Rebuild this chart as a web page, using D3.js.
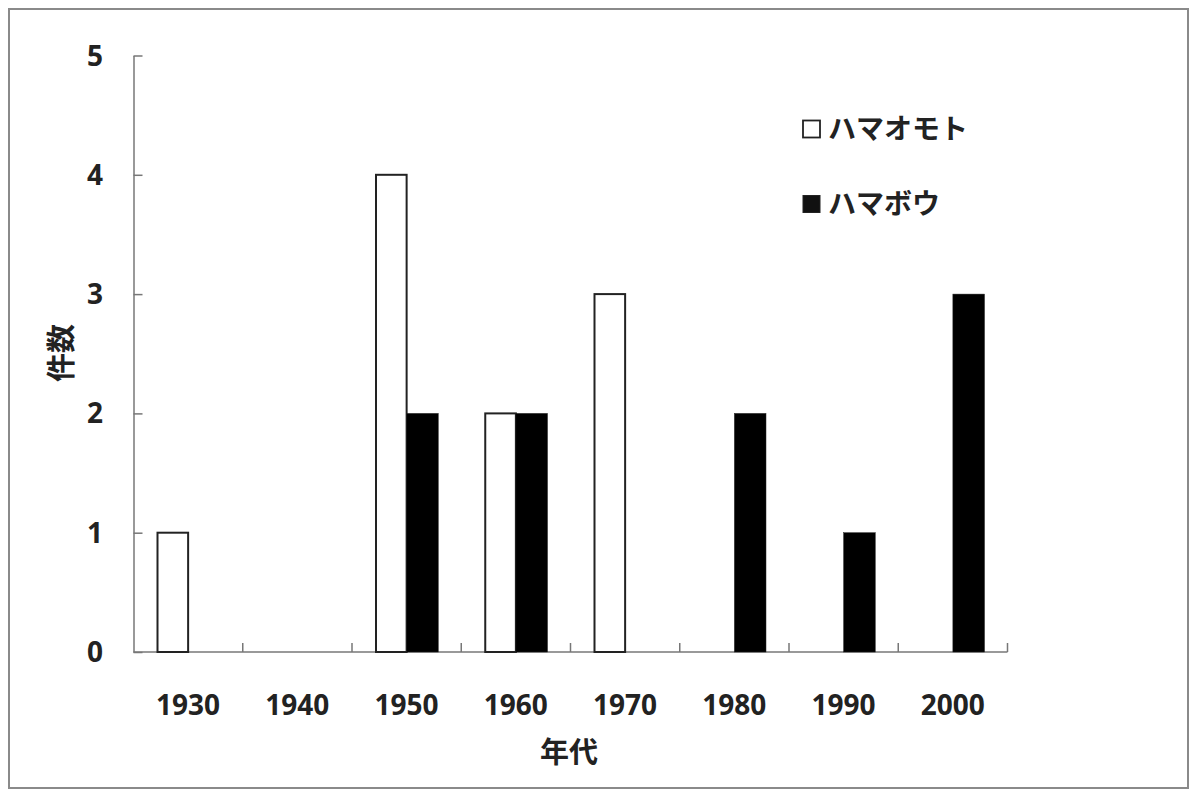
<!DOCTYPE html>
<html><head><meta charset="utf-8">
<script src="https://cdn.jsdelivr.net/npm/d3@7"></script>
<style>
html,body{margin:0;padding:0;background:#fff;}
svg{display:block;}
</style></head>
<body>
<svg id="chart" width="1192" height="791"></svg>
<script>
const categories = ["1930","1940","1950","1960","1970","1980","1990","2000"];
const seriesNames = ["ハマオモト","ハマボウ"];
const hamaomoto = [1,0,4,2,3,0,0,0];
const hamabou = [0,0,2,2,0,2,1,3];
const yTicks = [0,1,2,3,4,5];

(function(){
const svg = d3.select("#chart");
const pL = 133.5, pR = 1007.5, pT = 55.5, pB = 652;
const latin = "'Open Sans', 'Noto Sans', sans-serif";
const cjk = "'Noto Sans CJK JP', sans-serif";

// outer border
svg.append("rect").attr("x",9).attr("y",9).attr("width",1179).attr("height",779)
  .attr("fill","#fff").attr("stroke","#8a8a8a").attr("stroke-width",2);

const x = d3.scaleBand().domain(categories).range([pL,pR]).paddingInner(0).paddingOuter(0);
const x1 = d3.scaleBand().domain(seriesNames).range([23, x.bandwidth()-23]).padding(0);
const y = d3.scaleLinear().domain([0,5]).range([pB, pT]);

// y axis
const yAxis = d3.axisRight(y).tickValues(yTicks).tickSize(9).tickFormat("").tickSizeOuter(0);
const gy = svg.append("g").attr("transform",`translate(${pL},0)`).call(yAxis);
gy.select(".domain").attr("stroke","#777").attr("stroke-width",1.5);
gy.selectAll(".tick line").attr("stroke","#777").attr("stroke-width",1.5);

svg.append("g").selectAll("text").data(yTicks).join("text")
  .attr("x",103).attr("y",d=>y(d)).attr("dy","0.36em").attr("text-anchor","end")
  .attr("font-family",latin).attr("font-weight",700).attr("font-size",28).attr("fill","#222")
  .text(d=>d);

// x axis: ticks at category boundaries
const boundaries = categories.map(c=>x(c)).concat([pR]);
const gx = svg.append("g");
gx.append("line").attr("x1",pL).attr("x2",pR).attr("y1",pB).attr("y2",pB)
  .attr("stroke","#777").attr("stroke-width",1.5);
gx.selectAll("line.t").data(boundaries.slice(1)).join("line").attr("class","t")
  .attr("x1",d=>d).attr("x2",d=>d).attr("y1",pB).attr("y2",pB-9)
  .attr("stroke","#777").attr("stroke-width",1.5);

svg.append("g").selectAll("text").data(categories).join("text")
  .attr("x",d=>x(d)+x.bandwidth()/2).attr("y",715).attr("text-anchor","middle")
  .attr("font-family",latin).attr("font-weight",700).attr("font-size",28).attr("fill","#222")
  .text(d=>d);

// bars
const data = categories.map((c,i)=>({c, vals:[{s:seriesNames[0],v:hamaomoto[i]},{s:seriesNames[1],v:hamabou[i]}]}));
const g = svg.append("g");
data.forEach(d=>{
  d.vals.forEach(b=>{
    if(b.v<=0) return;
    const isW = b.s===seriesNames[0];
    g.append("rect")
      .attr("x",x(d.c)+x1(b.s)+(isW?1:0))
      .attr("y",y(b.v))
      .attr("width",x1.bandwidth()-(isW?1:0))
      .attr("height",y(0)-y(b.v))
      .attr("fill",isW?"#fff":"#000")
      .attr("stroke","#222").attr("stroke-width",isW?2:0.5);
  });
});

// axis titles
svg.append("text").attr("x",569).attr("y",763).attr("text-anchor","middle")
  .attr("font-family",cjk).attr("font-weight",700).attr("font-size",29).attr("fill","#222").text("年代");
svg.append("text").attr("transform","translate(72,353) rotate(-90)").attr("text-anchor","middle")
  .attr("font-family",cjk).attr("font-weight",700).attr("font-size",29).attr("fill","#222").text("件数");

// legend
const legend = svg.append("g");
const legY = [129, 204];
seriesNames.forEach((s,i)=>{
  legend.append("rect").attr("x",803).attr("y",legY[i]-8.5).attr("width",17).attr("height",17)
    .attr("fill",i===0?"#fff":"#111").attr("stroke","#222").attr("stroke-width",i===0?1.8:1);
  legend.append("text").attr("x",828).attr("y",legY[i]).attr("dy","0.36em")
    .attr("font-family",cjk).attr("font-weight",700).attr("font-size",28).attr("fill","#222").text(s);
});
})();
</script>
</body></html>
